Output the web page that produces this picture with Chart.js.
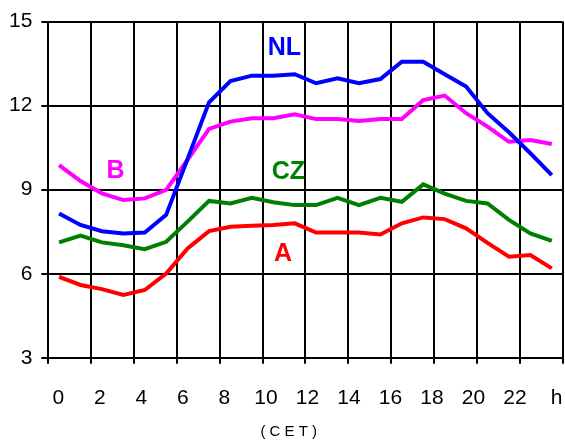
<!DOCTYPE html>
<html>
<head>
<meta charset="utf-8">
<script src="https://cdn.jsdelivr.net/npm/chart.js@4/dist/chart.umd.min.js"></script>
<style>
  html, body { margin: 0; padding: 0; background: #fff; }
  canvas { display: block; }
</style>
</head>
<body>
<canvas id="c" width="565" height="443"></canvas>
<script>
// ---- data ----
const hours = [0,1,2,3,4,5,6,7,8,9,10,11,12,13,14,15,16,17,18,19,20,21,22,23];
const seriesNL = [8.15,7.74,7.52,7.44,7.47,8.10,10.10,12.12,12.88,13.07,13.07,13.12,12.80,12.98,12.80,12.95,13.57,13.57,13.12,12.68,11.73,11.05,10.30,9.52];
const seriesB  = [9.88,9.31,8.87,8.63,8.69,8.99,10.07,11.17,11.43,11.55,11.55,11.69,11.52,11.52,11.45,11.52,11.52,12.20,12.36,11.73,11.25,10.71,10.77,10.63];
const seriesCZ = [7.12,7.36,7.12,7.02,6.88,7.14,7.86,8.60,8.51,8.71,8.55,8.45,8.45,8.71,8.45,8.71,8.57,9.19,8.86,8.60,8.51,7.92,7.44,7.17];
const seriesA  = [5.89,5.60,5.45,5.24,5.42,6.01,6.90,7.52,7.68,7.71,7.74,7.80,7.47,7.47,7.47,7.40,7.80,8.01,7.95,7.62,7.10,6.61,6.67,6.19];
const seriesNames = ['NL','B','CZ','A'];
const seriesColors = ['#0000ff','#ff00ff','#008000','#ff0000'];
// name label anchors (hour, value)
const nameX = [10.52, 2.63, 10.70, 10.45];
const nameY = [14.04, 9.68, 9.64, 6.70];
const xTickLabels = ['0','2','4','6','8','10','12','14','16','18','20','22','h'];
const xGridValues = [-0.5,1.5,3.5,5.5,7.5,9.5,11.5,13.5,15.5,17.5,19.5,21.5,23.5];
const yTicks = [3,6,9,12,15];
const xTitle = '( C E T )';

const FONT = '"Liberation Sans", Arial, Helvetica, sans-serif';
const allSeries = [seriesNL, seriesB, seriesCZ, seriesA];

const nameLabels = {
  id: 'nameLabels',
  afterDatasetsDraw(chart) {
    const ctx = chart.ctx;
    const xs = chart.scales.x, ys = chart.scales.y;
    ctx.save();
    ctx.font = 'bold 25px ' + FONT;
    ctx.textAlign = 'center';
    ctx.textBaseline = 'middle';
    seriesNames.forEach((n, i) => {
      ctx.fillStyle = seriesColors[i];
      ctx.fillText(n, xs.getPixelForValue(nameX[i]), ys.getPixelForValue(nameY[i]));
    });
    ctx.restore();
  }
};

new Chart(document.getElementById('c'), {
  type: 'line',
  data: {
    datasets: allSeries.map((s, i) => ({
      label: seriesNames[i],
      data: hours.map((h, k) => ({x: h, y: s[k]})),
      borderColor: seriesColors[i],
      backgroundColor: seriesColors[i],
      borderWidth: 4,
      pointRadius: 0,
      tension: 0,
      fill: false
    }))
  },
  options: {
    responsive: false,
    devicePixelRatio: 1,
    animation: false,
    events: [],
    layout: { padding: { top: 20, left: 0, right: 2.5, bottom: 2 } },
    plugins: { legend: { display: false }, tooltip: { enabled: false } },
    scales: {
      x: {
        type: 'linear',
        position: 'bottom',
        min: -0.5,
        max: 23.5,
        afterBuildTicks: (s) => { s.ticks = xGridValues.map(v => ({value: v})); },
        grid: { color: '#000', lineWidth: 2, tickLength: 6, drawTicks: true },
        border: { color: '#000', width: 2 },
        ticks: { display: false }
      },
      x2: {
        type: 'linear',
        position: 'bottom',
        min: -0.482,
        max: 24.29,
        afterBuildTicks: (s) => { s.ticks = xTickLabels.map((_, k) => ({value: 2 * k})); },
        grid: { display: true, drawOnChartArea: false, drawTicks: true, tickLength: 22, color: 'rgba(0,0,0,0)' },
        border: { display: false },
        ticks: {
          autoSkip: false, maxRotation: 0, minRotation: 0,
          padding: 0,
          color: '#000',
          font: { family: FONT, size: 21 },
          callback: (v, idx) => xTickLabels[idx]
        },
        title: {
          display: true,
          text: xTitle + '\u00a0\u00a0\u00a0\u00a0\u00a0\u00a0\u00a0\u00a0',
          color: '#000',
          font: { family: FONT, size: 15 },
          padding: { top: 12, bottom: 0 }
        }
      },
      y: {
        min: 3,
        max: 15,
        afterBuildTicks: (s) => { s.ticks = yTicks.map(v => ({value: v})); },
        grid: { color: '#000', lineWidth: 2, tickLength: 7 },
        border: { color: '#000', width: 2 },
        ticks: {
          padding: 9,
          color: '#000',
          font: { family: FONT, size: 21 }
        }
      }
    }
  },
  plugins: [nameLabels]
});
</script>
</body>
</html>
